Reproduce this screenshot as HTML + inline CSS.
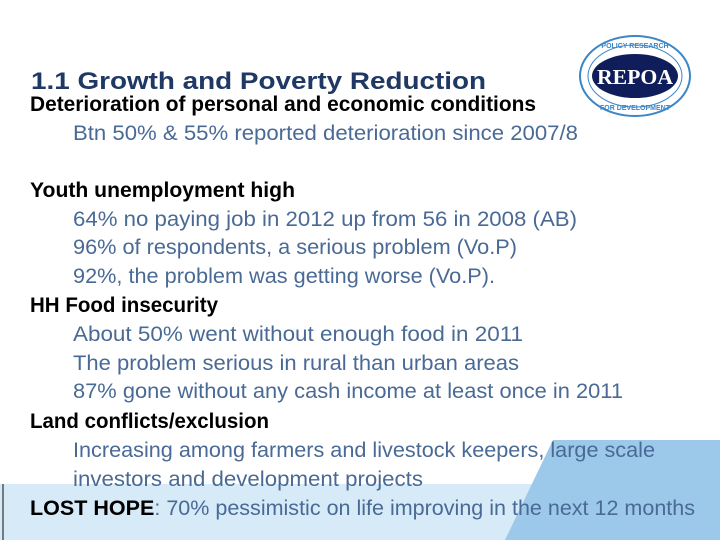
<!DOCTYPE html>
<html><head><meta charset="utf-8"><style>
html,body{margin:0;padding:0;background:#fff;}
svg{display:block;}
</style></head><body>
<svg width="720" height="540" viewBox="0 0 720 540" font-family="Liberation Sans, sans-serif">
  <rect x="0" y="484" width="720" height="56" fill="#d6eaf8"/>
  <polygon points="553,440 720,440 720,540 505,540" fill="#9cc8ea"/>
  <line x1="3" y1="484" x2="3" y2="540" stroke="#555" stroke-width="1.5"/>

  <g>
    <ellipse cx="635" cy="76" rx="55" ry="40" fill="#fff" stroke="#3a86c8" stroke-width="2"/>
    <ellipse cx="635" cy="76" rx="47" ry="31" fill="none" stroke="#3a86c8" stroke-width="1"/>
    <ellipse cx="635" cy="76" rx="43" ry="22" fill="#0f1e5a"/>
    <text x="635" y="84" text-anchor="middle" font-family="Liberation Serif, serif" font-weight="bold" font-size="21" fill="#fff" textLength="76" lengthAdjust="spacingAndGlyphs">REPOA</text>
    <text x="635" y="48" text-anchor="middle" font-size="7" font-weight="bold" fill="#3a86c8">POLICY RESEARCH</text>
    <text x="635" y="110" text-anchor="middle" font-size="7" font-weight="bold" fill="#3a86c8">FOR DEVELOPMENT</text>
  </g>

  <text x="31" y="89" font-size="24" font-weight="bold" fill="#1f3864" textLength="455" lengthAdjust="spacingAndGlyphs">1.1 Growth and Poverty Reduction</text>

  <g font-size="21">
    <text x="30" y="111" font-weight="bold" fill="#000" textLength="506" lengthAdjust="spacingAndGlyphs">Deterioration of personal and economic conditions</text>
    <text x="73" y="140" fill="#4a6a96" textLength="505" lengthAdjust="spacingAndGlyphs">Btn 50% &amp; 55% reported deterioration since 2007/8</text>
    <text x="30" y="197" font-weight="bold" fill="#000" textLength="265" lengthAdjust="spacingAndGlyphs">Youth unemployment high</text>
    <text x="73" y="226" fill="#4a6a96" textLength="504" lengthAdjust="spacingAndGlyphs">64% no paying job in 2012 up from 56 in 2008 (AB)</text>
    <text x="73" y="254" fill="#4a6a96" textLength="444" lengthAdjust="spacingAndGlyphs">96% of respondents, a serious problem (Vo.P)</text>
    <text x="73" y="283" fill="#4a6a96" textLength="422" lengthAdjust="spacingAndGlyphs">92%, the problem was getting worse (Vo.P).</text>
    <text x="30" y="312" font-weight="bold" fill="#000" textLength="188" lengthAdjust="spacingAndGlyphs">HH Food insecurity</text>
    <text x="73" y="341" fill="#4a6a96" textLength="450" lengthAdjust="spacingAndGlyphs">About 50% went without enough food in 2011</text>
    <text x="73" y="370" fill="#4a6a96" textLength="446" lengthAdjust="spacingAndGlyphs">The problem serious in rural than urban areas</text>
    <text x="73" y="398" fill="#4a6a96" textLength="550" lengthAdjust="spacingAndGlyphs">87% gone without any cash income at least once in 2011</text>
    <text x="30" y="428" font-weight="bold" fill="#000" textLength="239" lengthAdjust="spacingAndGlyphs">Land conflicts/exclusion</text>
    <text x="73" y="457" fill="#4a6a96" textLength="582" lengthAdjust="spacingAndGlyphs">Increasing among farmers and livestock keepers, large scale</text>
    <text x="73" y="486" fill="#4a6a96" textLength="350" lengthAdjust="spacingAndGlyphs">investors and development projects</text>
    <text x="30" y="515" fill="#4a6a96" textLength="665" lengthAdjust="spacingAndGlyphs"><tspan font-weight="bold" fill="#000">LOST HOPE</tspan>: 70% pessimistic on life improving in the next 12 months</text>
  </g>
</svg>
</body></html>
